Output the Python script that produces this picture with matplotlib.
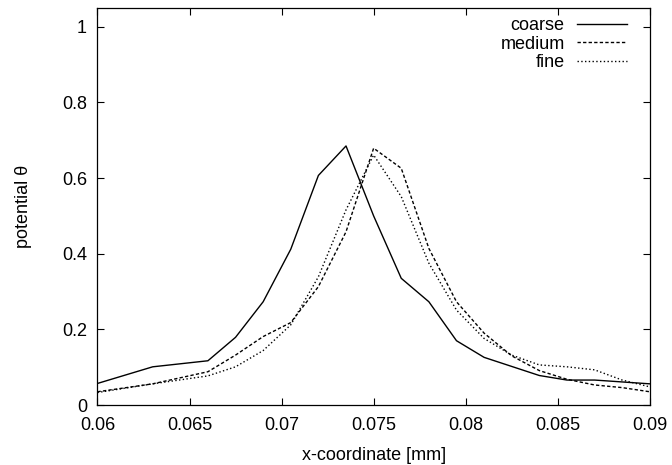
import matplotlib
matplotlib.use("Agg")
import matplotlib.pyplot as plt

plt.rcParams["font.family"] = ["Liberation Sans", "DejaVu Sans"]

# values
x_coarse = [0.06, 0.063, 0.066, 0.0675, 0.069, 0.0705, 0.072, 0.0735, 0.075,
            0.0765, 0.078, 0.0795, 0.081, 0.084, 0.0855, 0.087, 0.09]
y_coarse = [0.057, 0.101, 0.117, 0.179, 0.273, 0.412, 0.607, 0.685, 0.50,
            0.335, 0.273, 0.170, 0.126, 0.078, 0.066, 0.066, 0.056]

x_grid = [0.06, 0.063, 0.066, 0.0675, 0.069, 0.0705, 0.072, 0.0735, 0.075,
          0.0765, 0.078, 0.0795, 0.081, 0.0825, 0.084, 0.0855, 0.087, 0.0885, 0.09]
y_medium = [0.035, 0.056, 0.088, 0.132, 0.181, 0.218, 0.313, 0.458, 0.679,
            0.626, 0.414, 0.273, 0.190, 0.130, 0.091, 0.068, 0.053, 0.046, 0.035]
y_fine = [0.033, 0.056, 0.077, 0.101, 0.144, 0.212, 0.339, 0.516, 0.661,
          0.551, 0.375, 0.251, 0.176, 0.132, 0.106, 0.101, 0.093, 0.066, 0.048]

xticks = [0.06, 0.065, 0.07, 0.075, 0.08, 0.085, 0.09]
xticklabels = ["0.06", "0.065", "0.07", "0.075", "0.08", "0.085", "0.09"]
yticks = [0, 0.2, 0.4, 0.6, 0.8, 1.0]
yticklabels = ["0", "0.2", "0.4", "0.6", "0.8", "1"]

fig = plt.figure(figsize=(6.72, 4.65), dpi=100)
ax = fig.add_axes([0.145, 0.129, 0.822, 0.854])

lw = 1.0
ax.plot(x_coarse, y_coarse, color="black", lw=lw, ls="-", label="coarse")
ax.plot(x_grid, y_medium, color="black", lw=lw, ls=(0, (2.4, 1.6)), label="medium")
ax.plot(x_grid, y_fine, color="black", lw=lw, ls=(0, (1.0, 1.7)), label="fine")

ax.set_xlim(0.06, 0.09)
ax.set_ylim(0, 1.05)
ax.set_xticks(xticks)
ax.set_xticklabels(xticklabels)
ax.set_yticks(yticks)
ax.set_yticklabels(yticklabels)
ax.tick_params(direction="in", top=True, right=True, length=5, width=0.8,
               labelsize=13)
ax.tick_params(axis="x", pad=8.5)
ax.tick_params(axis="y", pad=7.5)
for s in ax.spines.values():
    s.set_linewidth(0.9)

ax.set_xlabel("x-coordinate [mm]", fontsize=13)
ax.set_ylabel("potential θ", fontsize=13)
ax.xaxis.set_label_coords(0.5, -0.105)
ax.yaxis.set_label_coords(-0.119, 0.5)

ax.legend(loc="upper right", bbox_to_anchor=(0.971, 0.995), borderaxespad=0,
          frameon=False, markerfirst=False, fontsize=13,
          handlelength=2.77, handletextpad=0.66, labelspacing=0.08)

fig.savefig("out.png", dpi=100)
